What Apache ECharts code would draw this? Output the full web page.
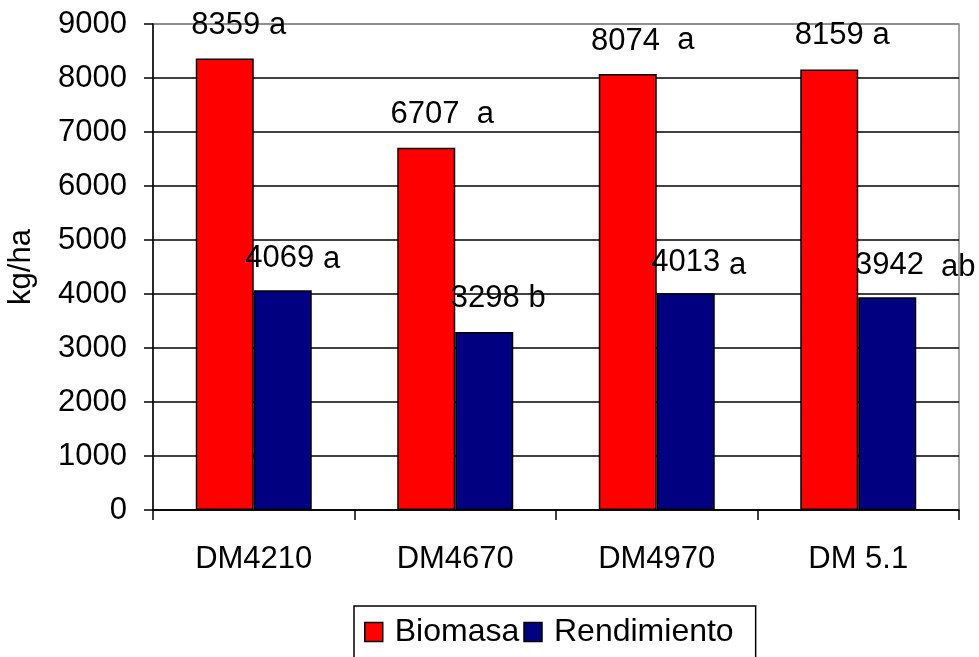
<!DOCTYPE html>
<html>
<head>
<meta charset="utf-8">
<script src="https://cdn.jsdelivr.net/npm/echarts@6/dist/echarts.min.js"></script>
<style>
  html, body { margin: 0; padding: 0; background: #fff; }
  #container { width: 979px; height: 657px; }
</style>
</head>
<body>
<div id="container"></div>
<script>
var categories = ['DM4210', 'DM4670', 'DM4970', 'DM 5.1'];
var biomasa = [8359, 6707, 8074, 8159];
var rendimiento = [4069, 3298, 4013, 3942];
var biomasaLetters = ['a', 'a', 'a', 'a'];
var rendimientoLetters = ['a', 'b', 'a', 'ab'];

// label tweaks (spacing, x shift, letter drop) to mimic the original layout
var biomasaGap = [' ', '  ', '  ', ' '];
var biomasaDx = [14, 16, 15, 13];
var biomasaDrop = [0, 0, -2, 0];
var rendGap = [' ', ' ', ' ', '  '];
var rendDx = [10, 14, 13, 28];
var rendDrop = [3, 0, 6, 4];

var dom = document.getElementById('container');
var myChart = echarts.init(dom);
var font = 'Liberation Sans';
var fs = 31;

function buildData(values, letters, gaps, dxs, drops) {
    var out = [];
    for (var i = 0; i < values.length; i++) {
        var d = drops[i];
        var pad = d >= 0 ? [d, 0, 0, 0] : [0, 0, -d, 0];
        out.push({
            value: values[i],
            label: {
                formatter: '{v|' + values[i] + gaps[i] + '}{l|' + letters[i] + '}',
                offset: [dxs[i], Math.abs(d)],
                rich: {
                    v: { fontSize: fs, fontFamily: font, color: '#000' },
                    l: { fontSize: fs, fontFamily: font, color: '#000', padding: pad }
                }
            }
        });
    }
    return out;
}

var splitColors = ['#000', '#000', '#000', '#000', '#000', '#000', '#000', '#000', '#000', '#888'];

var option = {
    backgroundColor: '#fff',
    animation: false,
    textStyle: { fontFamily: font },
    grid: {
        left: 153,
        right: 20,
        top: 24,
        bottom: 147,
        outerBoundsMode: 'none',
        show: true,
        borderColor: '#888',
        borderWidth: 1.5
    },
    legend: {
        left: 354,
        top: 606,
        data: ['Biomasa', 'Rendimiento'],
        icon: 'rect',
        itemWidth: 18,
        itemHeight: 19,
        itemGap: 4,
        padding: [10, 22, 30, 10],
        borderColor: '#000',
        borderWidth: 1.5,
        itemStyle: { borderColor: '#000', borderWidth: 1.5 },
        textStyle: { fontSize: 32, color: '#000', fontFamily: font, padding: [0, 0, 0, 7] }
    },
    xAxis: {
        type: 'category',
        data: categories,
        axisLine: { lineStyle: { color: '#000', width: 1.5 } },
        axisTick: { show: true, length: 10, lineStyle: { color: '#000', width: 1.5 } },
        axisLabel: { color: '#000', fontSize: fs, margin: 34, fontFamily: font },
        splitLine: { show: false }
    },
    yAxis: {
        type: 'value',
        min: 0,
        max: 9000,
        interval: 1000,
        name: 'kg/ha',
        nameLocation: 'middle',
        nameGap: 116,
        nameRotate: 90,
        nameTextStyle: { fontSize: fs, color: '#000', fontFamily: font },
        axisLine: { show: true, lineStyle: { color: '#000', width: 1.5 } },
        axisTick: { show: true, length: 9, lineStyle: { color: '#000', width: 1.5 } },
        axisLabel: {
            color: '#000', fontSize: fs, margin: 26, fontFamily: font,
            formatter: function (v) { return String(v); }
        },
        splitLine: { show: true, lineStyle: { color: splitColors, width: 1.5 } }
    },
    series: [
        {
            name: 'Biomasa',
            type: 'bar',
            barWidth: 58,
            barGap: '0%',
            data: buildData(biomasa, biomasaLetters, biomasaGap, biomasaDx, biomasaDrop),
            itemStyle: { color: '#ff0000', borderColor: '#000', borderWidth: 1.5 },
            label: { show: true, position: 'top', distance: 18 }
        },
        {
            name: 'Rendimiento',
            type: 'bar',
            barWidth: 58,
            barGap: '0%',
            data: buildData(rendimiento, rendimientoLetters, rendGap, rendDx, rendDrop),
            itemStyle: { color: '#000080', borderColor: '#000', borderWidth: 1.5 },
            label: { show: true, position: 'top', distance: 18 }
        }
    ]
};
myChart.setOption(option);
</script>
</body>
</html>
